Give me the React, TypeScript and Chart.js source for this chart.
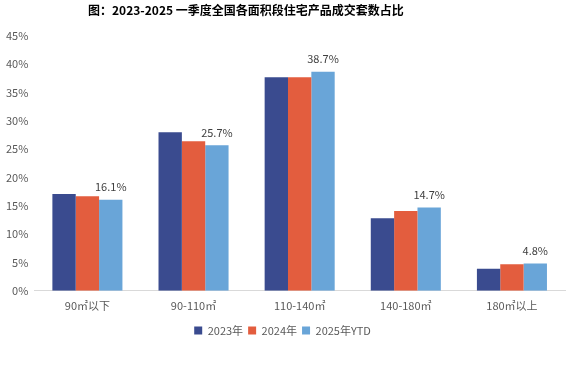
import React, { useEffect, useRef } from "react";
import { Chart, registerables } from "chart.js";

Chart.register(...registerables);

const categories = ["90㎡以下", "90-110㎡", "110-140㎡", "140-180㎡", "180㎡以上"];
const series2023 = [17.1, 28.0, 37.7, 12.8, 3.9];
const series2024 = [16.7, 26.4, 37.7, 14.1, 4.7];
const series2025 = [16.1, 25.7, 38.7, 14.7, 4.8];
const seriesNames = ["2023年", "2024年", "2025年YTD"];
const titleText = "图：2023-2025 一季度全国各面积段住宅产品成交套数占比";

const FONT = "'Noto Sans CJK SC', 'Noto Sans', sans-serif";

const titlePlugin = {
  id: "customTitle",
  afterDraw(chart: any) {
    const ctx = chart.ctx;
    ctx.save();
    ctx.font = `bold 12px ${FONT}`;
    ctx.fillStyle = "#000000";
    ctx.textAlign = "left";
    ctx.textBaseline = "middle";
    ctx.fillText(titleText, 88, 10);
    ctx.restore();
  },
};

const labelPlugin = {
  id: "lastLabels",
  afterDatasetsDraw(chart: any) {
    const ctx = chart.ctx;
    const meta = chart.getDatasetMeta(2);
    ctx.save();
    ctx.font = `11px ${FONT}`;
    ctx.fillStyle = "#404040";
    ctx.textAlign = "center";
    ctx.textBaseline = "bottom";
    meta.data.forEach((bar: any, i: number) => {
      ctx.fillText(series2025[i].toFixed(1) + "%", bar.x, bar.y - 7);
    });
    ctx.restore();
  },
};

export default function App() {
  const ref = useRef<HTMLCanvasElement>(null);
  useEffect(() => {
    if (!ref.current) return;
    const chart = new Chart(ref.current, {
      type: "bar",
      data: {
        labels: categories,
        datasets: [
          { label: seriesNames[0], data: series2023, backgroundColor: "#3a4b8f" },
          { label: seriesNames[1], data: series2024, backgroundColor: "#e35d3e" },
          { label: seriesNames[2], data: series2025, backgroundColor: "#69a5d8" },
        ],
      },
      options: {
        animation: false,
        responsive: false,
        maintainAspectRatio: false,
        layout: { padding: { top: 36, right: 14, bottom: 37, left: 0 } },
        datasets: { bar: { barPercentage: 1, categoryPercentage: 0.66 } },
        plugins: {
          title: { display: false },
          tooltip: { enabled: false },
          legend: {
            position: "bottom",
            labels: {
              boxWidth: 8,
              boxHeight: 8,
              padding: 5,
              color: "#595959",
              font: { family: FONT, size: 11 },
            },
          },
        },
        scales: {
          x: {
            grid: { display: false, drawTicks: false },
            border: { display: true, color: "#d9d9d9" },
            ticks: { color: "#595959", font: { family: FONT, size: 11 }, padding: 8 },
          },
          y: {
            min: 0,
            max: 45,
            grid: { display: false, drawTicks: false },
            border: { display: false },
            ticks: {
              stepSize: 5,
              color: "#595959",
              font: { family: FONT, size: 11 },
              padding: 6,
              callback: (v: any) => v + "%",
            },
          },
        },
      },
      plugins: [titlePlugin, labelPlugin],
    });
    return () => chart.destroy();
  }, []);
  return (
    <div style={{ position: "fixed", left: 0, top: 0, width: 579, height: 383, overflow: "hidden" }}>
      <canvas ref={ref} width={579} height={383} style={{ display: "block" }} />
    </div>
  );
}
